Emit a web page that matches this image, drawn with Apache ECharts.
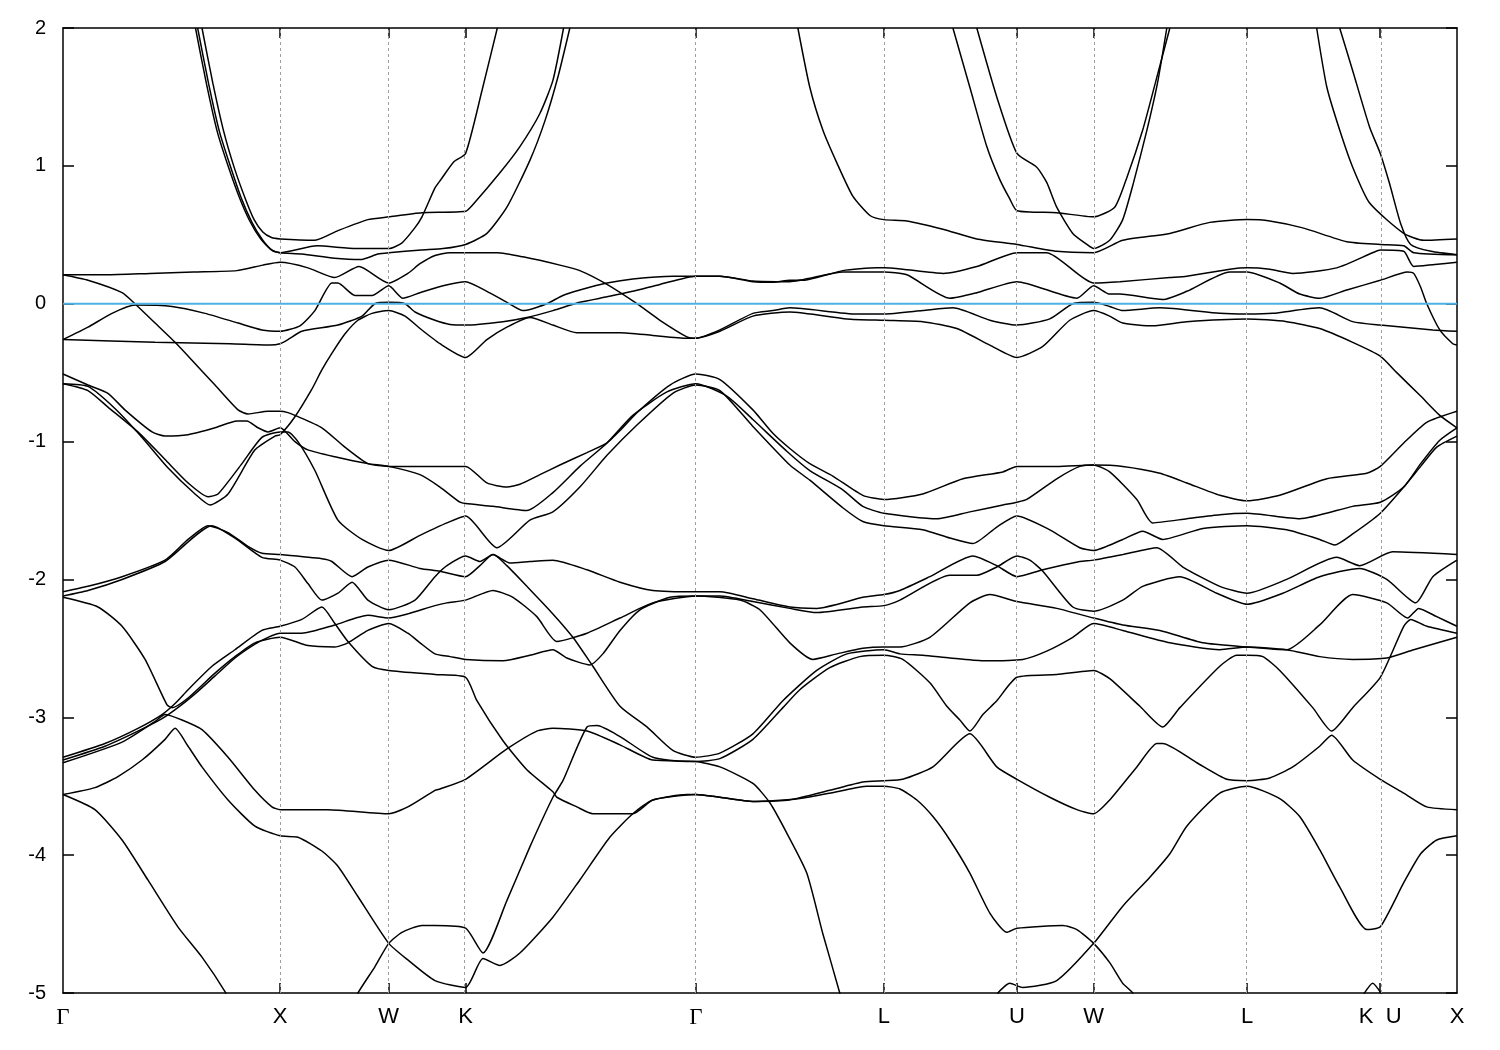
<!DOCTYPE html>
<html><head><meta charset="utf-8">
<script src="https://cdn.jsdelivr.net/npm/echarts@6/dist/echarts.min.js"></script>
<style>html,body{margin:0;padding:0;background:#fff}#c{width:1500px;height:1050px}</style>
</head><body><div id="c"></div>
<script>
// high-symmetry points (k-path distance, 2pi/a units)
const kTicks = [0, 1, 1.5, 1.8536, 2.9142, 3.7802, 4.3926, 4.7462, 5.4533, 6.0657, 6.4193];
const kLabels = ['Γ','X','W','K','Γ','L','U','W','L','K  U','X'];
const eTicks = [-5,-4,-3,-2,-1,0,1,2];
const fermiLevel = 0;

// bands: [k, E(eV)]
const T1 = [[0.64,2.0],[0.69,1.6],[0.74,1.25],[0.79,0.98],[0.84,0.76],[0.88,0.61],[0.92,0.52],[0.96,0.48],[1.0,0.47],[1.16,0.46],[1.266,0.53],[1.404,0.61],[1.5,0.63],[1.653,0.66],[1.854,0.67],[1.888,0.72],[2.012,0.95],[2.104,1.14],[2.196,1.38],[2.256,1.62],[2.305,2.0]];
const T2 = [[0.61,2.0],[0.66,1.6],[0.71,1.25],[0.76,1.0],[0.81,0.78],[0.86,0.6],[0.91,0.47],[0.96,0.39],[1.0,0.37],[1.17,0.42],[1.35,0.40],[1.5,0.40],[1.56,0.44],[1.62,0.55],[1.653,0.63],[1.713,0.84],[1.74,0.90],[1.80,1.03],[1.854,1.09],[1.93,1.55],[2.0,2.0]];
const T3 = [[0.62,2.0],[0.67,1.6],[0.72,1.25],[0.77,1.0],[0.82,0.77],[0.87,0.59],[0.92,0.46],[0.965,0.385],[1.0,0.37],[1.10,0.36],[1.25,0.33],[1.37,0.32],[1.45,0.36],[1.5,0.37],[1.65,0.39],[1.75,0.40],[1.854,0.43],[1.952,0.51],[2.044,0.70],[2.15,1.04],[2.22,1.33],[2.28,1.65],[2.334,2.0]];
const T4 = [[0,0.21],[0.2,0.21],[0.4,0.22],[0.6,0.23],[0.8,0.24],[0.92,0.28],[1.0,0.30],[1.128,0.26],[1.252,0.19],[1.363,0.27],[1.5,0.15],[1.588,0.22],[1.644,0.29],[1.713,0.35],[1.78,0.37],[1.854,0.37],[2.0,0.37],[2.118,0.34],[2.288,0.28],[2.38,0.24],[2.505,0.14],[2.643,0.0],[2.749,-0.12],[2.873,-0.24],[2.914,-0.25],[3.025,-0.20],[3.177,-0.09],[3.347,-0.06],[3.610,-0.11],[3.780,-0.12],[3.959,-0.13],[4.116,-0.18],[4.268,-0.30],[4.393,-0.39],[4.512,-0.31],[4.636,-0.12],[4.746,-0.05],[4.820,-0.09],[4.880,-0.14],[5.018,-0.16],[5.175,-0.13],[5.453,-0.11],[5.635,-0.13],[5.787,-0.18],[5.939,-0.28],[6.066,-0.38],[6.142,-0.50],[6.252,-0.67],[6.340,-0.81],[6.419,-0.90]];
const T5 = [[0,0.21],[0.115,0.17],[0.272,0.08],[0.331,0.0],[0.424,-0.14],[0.516,-0.28],[0.594,-0.41],[0.70,-0.59],[0.806,-0.77],[0.852,-0.80],[0.944,-0.78],[1.0,-0.78],[1.036,-0.79],[1.068,-0.81],[1.192,-0.90],[1.298,-1.04],[1.404,-1.16],[1.5,-1.18],[1.713,-1.18],[1.854,-1.18],[1.952,-1.30],[2.044,-1.33],[2.104,-1.31],[2.196,-1.24],[2.288,-1.17],[2.413,-1.08],[2.505,-1.01],[2.565,-0.92],[2.643,-0.79],[2.795,-0.59],[2.914,-0.51],[3.025,-0.55],[3.177,-0.77],[3.269,-0.94],[3.347,-1.05],[3.439,-1.16],[3.545,-1.25],[3.683,-1.39],[3.780,-1.42],[3.959,-1.38],[4.144,-1.27],[4.328,-1.22],[4.393,-1.18],[4.576,-1.18],[4.746,-1.17],[4.880,-1.18],[5.051,-1.23],[5.175,-1.30],[5.327,-1.39],[5.453,-1.43],[5.603,-1.39],[5.820,-1.27],[6.004,-1.23],[6.066,-1.18],[6.174,-1.01],[6.280,-0.86],[6.419,-0.78]];
const C2 = [[0,-0.26],[0.115,-0.17],[0.226,-0.07],[0.331,-0.01],[0.502,-0.02],[0.654,-0.07],[0.806,-0.14],[0.916,-0.19],[1.0,-0.20],[1.091,-0.16],[1.16,-0.05],[1.238,0.15],[1.266,0.15],[1.344,0.06],[1.423,0.06],[1.5,0.13],[1.565,0.04],[1.644,0.08],[1.75,0.13],[1.854,0.16],[1.952,0.09],[2.044,0.01],[2.118,-0.05],[2.228,0.0],[2.302,0.06],[2.38,0.10],[2.505,0.15],[2.624,0.18],[2.808,0.20],[2.914,0.20],[3.025,0.20],[3.177,0.16],[3.269,0.155],[3.347,0.17],[3.407,0.17],[3.591,0.24],[3.748,0.26],[3.780,0.26],[3.867,0.25],[4.052,0.22],[4.208,0.27],[4.393,0.37],[4.530,0.37],[4.746,0.15],[4.867,0.16],[5.097,0.19],[5.175,0.20],[5.373,0.25],[5.453,0.26],[5.557,0.25],[5.663,0.22],[5.865,0.26],[6.031,0.37],[6.066,0.39],[6.174,0.38],[6.220,0.27],[6.317,0.285],[6.419,0.30]];
const C4 = [[0,-0.26],[0.424,-0.28],[0.769,-0.29],[0.953,-0.30],[1.0,-0.29],[1.036,-0.26],[1.10,-0.20],[1.266,-0.155],[1.377,-0.09],[1.436,0.0],[1.5,0.01],[1.575,0.0],[1.621,-0.06],[1.713,-0.12],[1.782,-0.15],[1.854,-0.155],[2.026,-0.13],[2.136,-0.10],[2.256,-0.05],[2.38,0.01],[2.505,0.05],[2.624,0.09],[2.749,0.14],[2.914,0.20],[3.025,0.20],[3.177,0.165],[3.347,0.16],[3.591,0.23],[3.780,0.23],[3.886,0.21],[4.084,0.04],[4.208,0.08],[4.393,0.16],[4.669,0.04],[4.746,0.13],[4.820,0.07],[4.867,0.07],[5.064,0.03],[5.175,0.09],[5.373,0.23],[5.453,0.23],[5.603,0.15],[5.695,0.07],[5.787,0.04],[5.912,0.10],[6.066,0.17],[6.192,0.23],[6.220,0.22],[6.252,0.12],[6.280,0.0],[6.340,-0.19],[6.400,-0.29],[6.419,-0.30]];
const C5 = [[0,-0.58],[0.115,-0.60],[0.239,-0.76],[0.364,-0.97],[0.483,-1.19],[0.608,-1.38],[0.677,-1.46],[0.760,-1.38],[0.884,-1.06],[0.976,-0.96],[1.0,-0.95],[1.068,-0.82],[1.146,-0.62],[1.192,-0.48],[1.238,-0.36],[1.298,-0.22],[1.358,-0.12],[1.423,-0.07],[1.5,-0.05],[1.575,-0.09],[1.644,-0.18],[1.736,-0.29],[1.854,-0.39],[1.952,-0.26],[2.044,-0.17],[2.15,-0.10],[2.256,-0.155],[2.366,-0.21],[2.565,-0.21],[2.716,-0.23],[2.873,-0.25],[2.914,-0.25],[3.025,-0.19],[3.177,-0.07],[3.269,-0.05],[3.347,-0.03],[3.656,-0.075],[3.780,-0.075],[3.959,-0.05],[4.098,-0.03],[4.268,-0.12],[4.393,-0.155],[4.544,-0.11],[4.650,0.0],[4.746,0.01],[4.820,-0.02],[4.880,-0.05],[5.051,-0.03],[5.327,-0.07],[5.453,-0.075],[5.571,-0.07],[5.787,-0.03],[5.939,-0.13],[6.066,-0.155],[6.308,-0.19],[6.419,-0.20]];
const Cc = [[0,-0.51],[0.115,-0.59],[0.207,-0.65],[0.285,-0.77],[0.410,-0.93],[0.470,-0.96],[0.576,-0.95],[0.700,-0.90],[0.801,-0.85],[0.847,-0.85],[0.898,-0.90],[0.944,-0.93],[1.0,-0.90],[1.068,-1.00],[1.128,-1.06],[1.252,-1.11],[1.404,-1.16],[1.5,-1.18],[1.644,-1.24],[1.736,-1.33],[1.828,-1.44],[1.854,-1.45],[1.980,-1.47],[2.136,-1.50],[2.256,-1.37],[2.38,-1.18],[2.505,-1.01],[2.624,-0.81],[2.781,-0.64],[2.914,-0.58],[3.057,-0.67],[3.177,-0.84],[3.333,-1.07],[3.439,-1.21],[3.591,-1.35],[3.683,-1.47],[3.780,-1.52],[4.024,-1.56],[4.176,-1.51],[4.328,-1.46],[4.393,-1.44],[4.438,-1.42],[4.576,-1.27],[4.682,-1.18],[4.746,-1.17],[4.820,-1.22],[4.945,-1.42],[5.018,-1.59],[5.175,-1.56],[5.327,-1.53],[5.453,-1.52],[5.695,-1.56],[5.939,-1.47],[6.066,-1.44],[6.174,-1.33],[6.252,-1.16],[6.340,-0.99],[6.419,-0.90]];
const Cd = [[0,-0.58],[0.115,-0.63],[0.207,-0.75],[0.345,-0.93],[0.470,-1.13],[0.576,-1.30],[0.668,-1.40],[0.714,-1.38],[0.824,-1.16],[0.916,-0.97],[1.0,-0.93],[1.036,-0.93],[1.082,-1.0],[1.160,-1.21],[1.266,-1.57],[1.377,-1.71],[1.5,-1.79],[1.644,-1.68],[1.768,-1.59],[1.854,-1.54],[1.998,-1.77],[2.150,-1.57],[2.256,-1.51],[2.38,-1.33],[2.505,-1.10],[2.643,-0.88],[2.808,-0.65],[2.914,-0.59],[3.025,-0.63],[3.177,-0.89],[3.347,-1.17],[3.439,-1.28],[3.591,-1.48],[3.683,-1.58],[3.780,-1.61],[3.959,-1.64],[4.084,-1.70],[4.190,-1.74],[4.300,-1.62],[4.393,-1.54],[4.544,-1.64],[4.682,-1.77],[4.746,-1.79],[4.880,-1.71],[4.972,-1.65],[5.064,-1.71],[5.249,-1.63],[5.453,-1.61],[5.635,-1.64],[5.787,-1.71],[5.856,-1.75],[5.939,-1.67],[6.066,-1.52],[6.174,-1.33],[6.252,-1.18],[6.326,-1.04],[6.419,-0.96]];
const U1 = [[3.384,2.0],[3.439,1.57],[3.499,1.26],[3.564,1.02],[3.637,0.78],[3.716,0.64],[3.780,0.61],[3.886,0.60],[4.052,0.54],[4.208,0.47],[4.393,0.43],[4.576,0.38],[4.746,0.37],[4.880,0.46],[5.097,0.51],[5.281,0.59],[5.453,0.61],[5.557,0.60],[5.709,0.55],[5.912,0.45],[6.066,0.43],[6.174,0.42],[6.220,0.37],[6.419,0.355]];
const U2a = [[4.098,2.0],[4.176,1.57],[4.254,1.14],[4.314,0.90],[4.36,0.76],[4.393,0.675],[4.576,0.66],[4.746,0.63],[4.843,0.70],[4.90,0.92],[4.972,1.26],[5.03,1.6],[5.097,2.0]];
const U2b = [[4.208,2.0],[4.300,1.50],[4.393,1.09],[4.484,0.99],[4.53,0.88],[4.576,0.70],[4.650,0.51],[4.715,0.43],[4.746,0.40],[4.82,0.46],[4.880,0.61],[4.93,0.88],[4.99,1.25],[5.04,1.6],[5.083,2.0]];
const R1 = [[5.773,2.0],[5.820,1.57],[5.879,1.26],[5.939,0.99],[6.017,0.73],[6.174,0.51],[6.266,0.46],[6.419,0.47]];
const R2 = [[5.879,2.0],[5.939,1.69],[6.017,1.28],[6.066,1.09],[6.109,0.87],[6.160,0.58],[6.206,0.43],[6.30,0.38],[6.419,0.355]];
const Bf = [[0,-2.09],[0.115,-2.05],[0.272,-1.98],[0.470,-1.86],[0.576,-1.71],[0.668,-1.61],[0.760,-1.66],[0.852,-1.76],[0.916,-1.81],[1.0,-1.82],[1.192,-1.85],[1.238,-1.87],[1.331,-1.98],[1.404,-1.91],[1.5,-1.86],[1.644,-1.92],[1.736,-1.94],[1.854,-1.98],[1.920,-1.90],[1.980,-1.82],[2.058,-1.88],[2.150,-1.87],[2.256,-1.86],[2.413,-1.93],[2.565,-2.02],[2.716,-2.08],[2.914,-2.09],[3.025,-2.09],[3.177,-2.14],[3.347,-2.20],[3.471,-2.21],[3.683,-2.13],[3.780,-2.11],[3.854,-2.08],[3.992,-1.98],[4.190,-1.83],[4.300,-1.90],[4.393,-1.98],[4.512,-1.93],[4.682,-1.87],[4.746,-1.86],[4.880,-1.82],[5.037,-1.77],[5.157,-1.91],[5.327,-2.05],[5.453,-2.10],[5.635,-2.00],[5.865,-1.84],[5.971,-1.90],[6.123,-1.80],[6.419,-1.82]];
const Bg = [[0,-2.12],[0.115,-2.08],[0.272,-2.0],[0.470,-1.87],[0.686,-1.61],[0.792,-1.70],[0.916,-1.84],[1.0,-1.86],[1.068,-1.91],[1.128,-2.03],[1.192,-2.15],[1.266,-2.10],[1.331,-2.02],[1.404,-2.15],[1.5,-2.22],[1.621,-2.15],[1.713,-1.98],[1.768,-1.90],[1.854,-1.83],[1.920,-1.87],[1.980,-1.82],[2.044,-1.90],[2.136,-2.05],[2.256,-2.25],[2.348,-2.42],[2.440,-2.63],[2.565,-2.92],[2.689,-3.07],[2.808,-3.24],[2.914,-3.29],[3.025,-3.26],[3.177,-3.12],[3.315,-2.88],[3.471,-2.66],[3.610,-2.54],[3.780,-2.51],[3.854,-2.54],[3.959,-2.55],[4.084,-2.57],[4.236,-2.59],[4.420,-2.58],[4.530,-2.52],[4.650,-2.42],[4.746,-2.32],[4.880,-2.37],[5.097,-2.46],[5.327,-2.51],[5.453,-2.49],[5.635,-2.51],[5.787,-2.56],[5.939,-2.58],[6.096,-2.57],[6.220,-2.51],[6.419,-2.42]];
const Bh = [[0,-2.13],[0.161,-2.20],[0.272,-2.34],[0.378,-2.58],[0.479,-2.91],[0.502,-2.93],[0.576,-2.86],[0.700,-2.68],[0.792,-2.56],[0.884,-2.46],[1.0,-2.42],[1.128,-2.48],[1.252,-2.49],[1.312,-2.46],[1.404,-2.37],[1.5,-2.32],[1.588,-2.39],[1.644,-2.46],[1.713,-2.54],[1.782,-2.56],[1.854,-2.58],[2.026,-2.59],[2.150,-2.55],[2.256,-2.51],[2.320,-2.57],[2.426,-2.62],[2.486,-2.54],[2.565,-2.37],[2.657,-2.22],[2.795,-2.13],[2.914,-2.12],[3.025,-2.12],[3.177,-2.16],[3.347,-2.21],[3.471,-2.24],[3.683,-2.20],[3.780,-2.19],[3.854,-2.15],[4.084,-1.97],[4.208,-1.97],[4.300,-1.91],[4.393,-1.83],[4.452,-1.86],[4.512,-1.94],[4.650,-2.20],[4.746,-2.23],[4.880,-2.15],[4.972,-2.05],[5.143,-1.98],[5.313,-2.10],[5.453,-2.18],[5.617,-2.10],[5.787,-1.98],[5.971,-1.92],[6.096,-2.00],[6.229,-2.17],[6.308,-1.98],[6.419,-1.86]];
const B1 = [[0,-3.29],[0.193,-3.19],[0.345,-3.08],[0.456,-2.98],[0.516,-2.90],[0.576,-2.80],[0.686,-2.63],[0.792,-2.51],[0.916,-2.37],[1.0,-2.34],[1.100,-2.29],[1.192,-2.20],[1.252,-2.32],[1.312,-2.45],[1.423,-2.63],[1.5,-2.66],[1.713,-2.69],[1.854,-2.71],[1.906,-2.88],[2.026,-3.17],[2.136,-3.38],[2.256,-3.54],[2.274,-3.58],[2.366,-3.65],[2.440,-3.70],[2.624,-3.70],[2.716,-3.60],[2.873,-3.56],[2.914,-3.56],[3.025,-3.58],[3.177,-3.61],[3.347,-3.60],[3.531,-3.53],[3.683,-3.47],[3.780,-3.46],[3.867,-3.45],[4.006,-3.36],[4.176,-3.12],[4.300,-3.36],[4.393,-3.45],[4.544,-3.58],[4.669,-3.67],[4.746,-3.70],[4.820,-3.60],[4.945,-3.36],[5.037,-3.19],[5.064,-3.19],[5.221,-3.33],[5.359,-3.45],[5.453,-3.46],[5.557,-3.44],[5.663,-3.36],[5.787,-3.21],[5.842,-3.13],[5.939,-3.31],[6.066,-3.45],[6.174,-3.55],[6.280,-3.65],[6.419,-3.67]];
const B2 = [[0,-3.31],[0.193,-3.21],[0.345,-3.10],[0.456,-3.01],[0.529,-2.93],[0.608,-2.83],[0.700,-2.70],[0.792,-2.57],[0.884,-2.47],[0.944,-2.42],[1.0,-2.39],[1.100,-2.39],[1.252,-2.33],[1.404,-2.26],[1.5,-2.28],[1.588,-2.25],[1.713,-2.19],[1.768,-2.17],[1.854,-2.15],[1.980,-2.08],[2.072,-2.13],[2.182,-2.27],[2.274,-2.45],[2.413,-2.39],[2.565,-2.28],[2.716,-2.17],[2.914,-2.12],[3.117,-2.15],[3.209,-2.22],[3.347,-2.46],[3.453,-2.58],[3.564,-2.54],[3.683,-2.50],[3.780,-2.49],[3.854,-2.49],[3.992,-2.42],[4.176,-2.17],[4.268,-2.11],[4.393,-2.16],[4.576,-2.21],[4.746,-2.28],[4.880,-2.33],[5.051,-2.37],[5.249,-2.46],[5.453,-2.49],[5.635,-2.51],[5.787,-2.33],[5.939,-2.11],[6.096,-2.17],[6.192,-2.28],[6.243,-2.21],[6.326,-2.27],[6.419,-2.34]];
const M1 = [[0,-3.33],[0.272,-3.18],[0.424,-3.03],[0.470,-2.98],[0.548,-3.02],[0.640,-3.09],[0.760,-3.29],[0.884,-3.53],[0.962,-3.65],[1.0,-3.67],[1.220,-3.67],[1.5,-3.70],[1.588,-3.65],[1.713,-3.53],[1.736,-3.52],[1.854,-3.45],[2.044,-3.23],[2.182,-3.10],[2.256,-3.08],[2.413,-3.10],[2.565,-3.20],[2.716,-3.31],[2.914,-3.32],[3.025,-3.36],[3.177,-3.48],[3.255,-3.62],[3.333,-3.84],[3.425,-4.13],[3.499,-4.57],[3.577,-5.0],[3.59,-5.1]];
const M2 = [[0,-3.56],[0.147,-3.51],[0.253,-3.43],[0.364,-3.31],[0.470,-3.16],[0.516,-3.08],[0.576,-3.21],[0.640,-3.36],[0.760,-3.60],[0.884,-3.79],[1.0,-3.86],[1.082,-3.87],[1.192,-3.97],[1.266,-4.08],[1.358,-4.30],[1.5,-4.64],[1.588,-4.76],[1.713,-4.91],[1.854,-4.96],[1.934,-4.75],[2.012,-4.80],[2.104,-4.71],[2.256,-4.45],[2.38,-4.18],[2.518,-3.87],[2.624,-3.70],[2.716,-3.60],[2.914,-3.56],[3.025,-3.58],[3.177,-3.61],[3.393,-3.59],[3.564,-3.54],[3.702,-3.50],[3.780,-3.50],[3.854,-3.52],[3.932,-3.60],[4.006,-3.72],[4.084,-3.89],[4.176,-4.13],[4.268,-4.42],[4.346,-4.56],[4.393,-4.53],[4.604,-4.51],[4.669,-4.54],[4.746,-4.64],[4.820,-4.78],[4.880,-4.93],[4.926,-5.0],[4.94,-5.1]];
const M3 = [[0,-3.56],[0.147,-3.67],[0.272,-3.89],[0.391,-4.18],[0.529,-4.52],[0.640,-4.74],[0.746,-4.99],[0.76,-5.05]];
const M4 = [[1.35,-5.05],[1.358,-5.0],[1.436,-4.81],[1.5,-4.64],[1.561,-4.56],[1.653,-4.51],[1.713,-4.51],[1.854,-4.53],[1.934,-4.71],[2.044,-4.33],[2.150,-3.94],[2.256,-3.58],[2.302,-3.46],[2.413,-3.07],[2.459,-3.06],[2.565,-3.14],[2.716,-3.29],[2.873,-3.32],[2.914,-3.32],[3.025,-3.30],[3.177,-3.16],[3.315,-2.93],[3.393,-2.80],[3.531,-2.64],[3.669,-2.56],[3.780,-2.55],[3.867,-2.58],[3.992,-2.75],[4.070,-2.92],[4.130,-3.02],[4.176,-3.10],[4.236,-2.98],[4.300,-2.88],[4.393,-2.71],[4.576,-2.69],[4.746,-2.66],[4.820,-2.72],[4.959,-2.92],[5.064,-3.07],[5.143,-2.93],[5.327,-2.63],[5.405,-2.55],[5.453,-2.55],[5.525,-2.56],[5.603,-2.66],[5.755,-2.93],[5.842,-3.10],[5.939,-2.93],[6.066,-2.71],[6.174,-2.34],[6.206,-2.29],[6.280,-2.34],[6.419,-2.39]];
const M5 = [[4.300,-5.05],[4.305,-5.0],[4.36,-4.93],[4.42,-4.96],[4.576,-4.91],[4.746,-4.64],[4.880,-4.37],[5.005,-4.16],[5.097,-3.99],[5.175,-3.79],[5.327,-3.55],[5.453,-3.50],[5.603,-3.59],[5.695,-3.72],[5.787,-3.96],[5.879,-4.23],[6.004,-4.54],[6.066,-4.52],[6.174,-4.20],[6.252,-3.99],[6.326,-3.89],[6.419,-3.86]];
const M6 = [[5.985,-5.02],[6.031,-4.93],[6.077,-5.02]];

const bandList = [T1,T2,T3,T4,T5,C2,C4,C5,Cc,Cd,U1,U2a,U2b,R1,R2,Bf,Bg,Bh,B1,B2,M1,M2,M3,M4,M5,M6];

const kMin = kTicks[0], kMax = kTicks[kTicks.length-1];
const FONT = 'Liberation Sans, Arial, sans-serif';
function kLabel(v){
  for (let i=0;i<kTicks.length;i++) if (Math.abs(v-kTicks[i])<1e-6) {
    const s = kLabels[i];
    return s === 'Γ' ? '{g|Γ}' : s;
  }
  return '';
}

const chart = echarts.init(document.getElementById('c'), null, {renderer:'canvas'});
const series = [];
series.push({
  type:'line', data:[], silent:true, z:1,
  markLine:{symbol:'none', silent:true, animation:false, label:{show:false},
    lineStyle:{type:[3,3], color:'#a0a0a0', width:1},
    data: kTicks.slice(1,-1).map(k=>({xAxis:k}))}
});
bandList.forEach(b=>series.push({
  type:'line', data:b, showSymbol:false, symbol:'none', smooth:0.2,
  lineStyle:{color:'#000', width:1.5}, z:3, silent:true, animation:false, clip:true
}));
series.push({type:'line', data:[[kMin,fermiLevel],[kMax,fermiLevel]], showSymbol:false, symbol:'none',
  lineStyle:{color:'#4fb0e6', width:2}, z:4, silent:true, animation:false});

const axLine = {show:true, onZero:false, lineStyle:{color:'#000', width:1.5}};
chart.setOption({
  animation:false,
  backgroundColor:'#fff',
  grid:{left:63, right:43, top:28, bottom:57},
  xAxis:[{
    type:'value', min:kMin, max:kMax, position:'bottom',
    axisLine:axLine,
    axisTick:{show:true, inside:true, length:10, customValues:kTicks.slice(1,-1), lineStyle:{color:'#000', width:1.5}},
    axisLabel:{show:true, customValues:kTicks, formatter:kLabel, color:'#000', fontSize:22, fontFamily:FONT, margin:13,
      rich:{g:{fontFamily:'Liberation Serif, DejaVu Serif, serif', fontSize:23, color:'#000'}}},
    splitLine:{show:false}
  },{
    type:'value', min:kMin, max:kMax, position:'top',
    axisLine:axLine,
    axisTick:{show:true, inside:true, length:10, customValues:kTicks.slice(1,-1), lineStyle:{color:'#000', width:1.5}},
    axisLabel:{show:true, customValues:kTicks.slice(1,-1), formatter:()=>''},
    splitLine:{show:false}
  }],
  yAxis:[{
    type:'value', min:-5, max:2, interval:1, position:'left',
    axisLine:axLine,
    axisTick:{show:true, inside:true, length:11, lineStyle:{color:'#000', width:1.5}},
    axisLabel:{color:'#000', fontSize:20, fontFamily:FONT, margin:17},
    splitLine:{show:false}
  },{
    type:'value', min:-5, max:2, interval:1, position:'right',
    axisLine:axLine,
    axisTick:{show:true, inside:true, length:11, lineStyle:{color:'#000', width:1.5}},
    axisLabel:{show:false},
    splitLine:{show:false}
  }],
  series: series
});
</script></body></html>
